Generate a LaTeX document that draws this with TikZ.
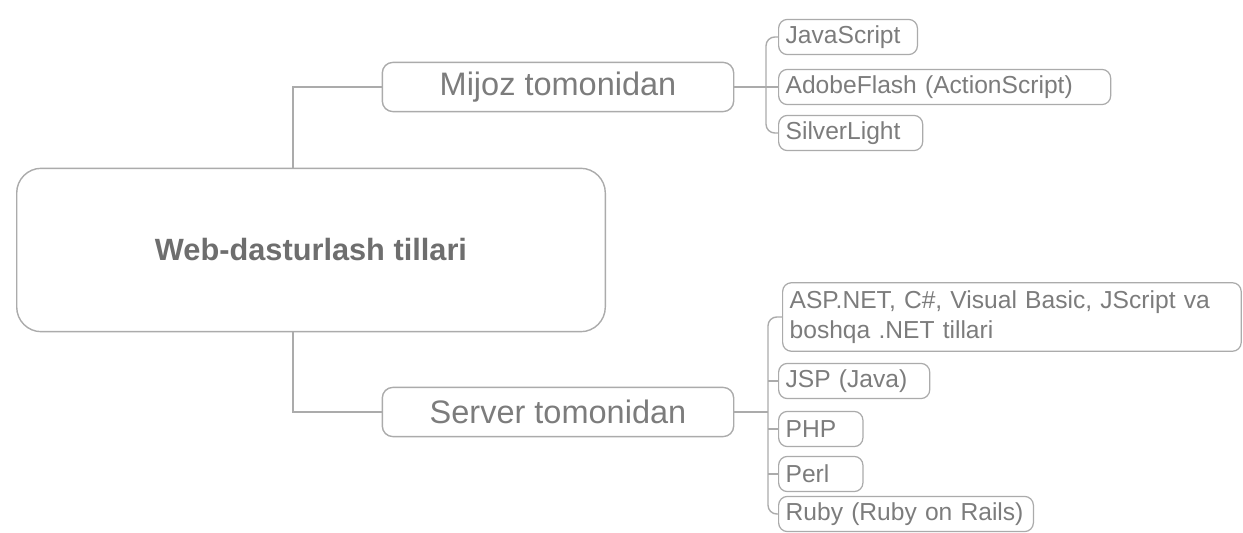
\documentclass[tikz,border=0pt]{standalone}
\usepackage{fontspec}
\setmainfont{Liberation Sans}
\usetikzlibrary{positioning}

\definecolor{linegray}{HTML}{ABABAB}
\definecolor{txtgray}{HTML}{7C7C7C}
\definecolor{rootgray}{HTML}{6E6E6E}

\tikzset{
	root/.style={rectangle, rounded corners=14pt, draw=linegray, line width=0.8pt, text=rootgray,
		font=\fontsize{17.5}{21}\selectfont\bfseries, minimum width=335pt, minimum height=93pt},
	side/.style={rectangle, rounded corners=6pt, draw=linegray, line width=0.8pt, text=txtgray,
		font=\fontsize{18.5}{22}\selectfont, minimum width=200pt, minimum height=28pt},
	leaf/.style={rectangle, rounded corners=5pt, draw=linegray, line width=0.7pt, text=txtgray,
		font=\fontsize{14}{17}\selectfont, anchor=west, align=left, inner xsep=4pt,
		minimum height=20pt},
	conn/.style={draw=linegray, line width=0.8pt}
}

\begin{document}
\begin{tikzpicture}[x=0.02cm, y=-0.02cm]
\useasboundingbox (0,0) rectangle (1243,533);

\node[root] (web) at (311,250) {Web-dasturlash tillari};
\node[side] (mijoz) at (558,87) {Mijoz tomonidan};
\node[side] (server) at (558,412) {Server tomonidan};

\coordinate (web top) at (293,168);
\coordinate (web bot) at (293,332);
\coordinate (mbar) at (766,0);
\coordinate (sbar) at (768,0);

% mijoz tomonidan
\node[leaf, text width=71pt] (js) at (778,37) {JavaScript};
\node[leaf, text width=181pt] (flash) at (778,87) {AdobeFlash (ActionScript)};
\node[leaf, text width=74pt] (silver) at (778,133) {SilverLight};

% server tomonidan
\node[leaf, text width=253pt, minimum height=39pt] (asp) at (782,317)
	{ASP.NET, C\#, Visual Basic, JScript va\\boshqa .NET tillari};
\node[leaf, text width=78pt] (jsp) at (778,381) {JSP (Java)};
\node[leaf, text width=40pt] (php) at (778,429) {PHP};
\node[leaf, text width=40pt] (perl) at (778,474) {Perl};
\node[leaf, text width=137pt] (ruby) at (778,514) {Ruby (Ruby on Rails)};

\draw[conn] (web top) |- (mijoz.west);
\draw[conn] (web bot) |- (server.west);

\draw[conn] (mijoz.east) -- (mijoz.east -| mbar);
\draw[conn, rounded corners=5pt] (js.west) -- (js.west -| mbar) -- (silver.west -| mbar) -- (silver.west);
\draw[conn] (flash.west -| mbar) -- (flash.west);

\draw[conn] (server.east) -- (server.east -| sbar);
\draw[conn, rounded corners=5pt] (asp.west) -- (asp.west -| sbar) -- (ruby.west -| sbar) -- (ruby.west);
\foreach \n in {jsp,php,perl}
	\draw[conn] (\n.west -| sbar) -- (\n.west);
\end{tikzpicture}
\end{document}
